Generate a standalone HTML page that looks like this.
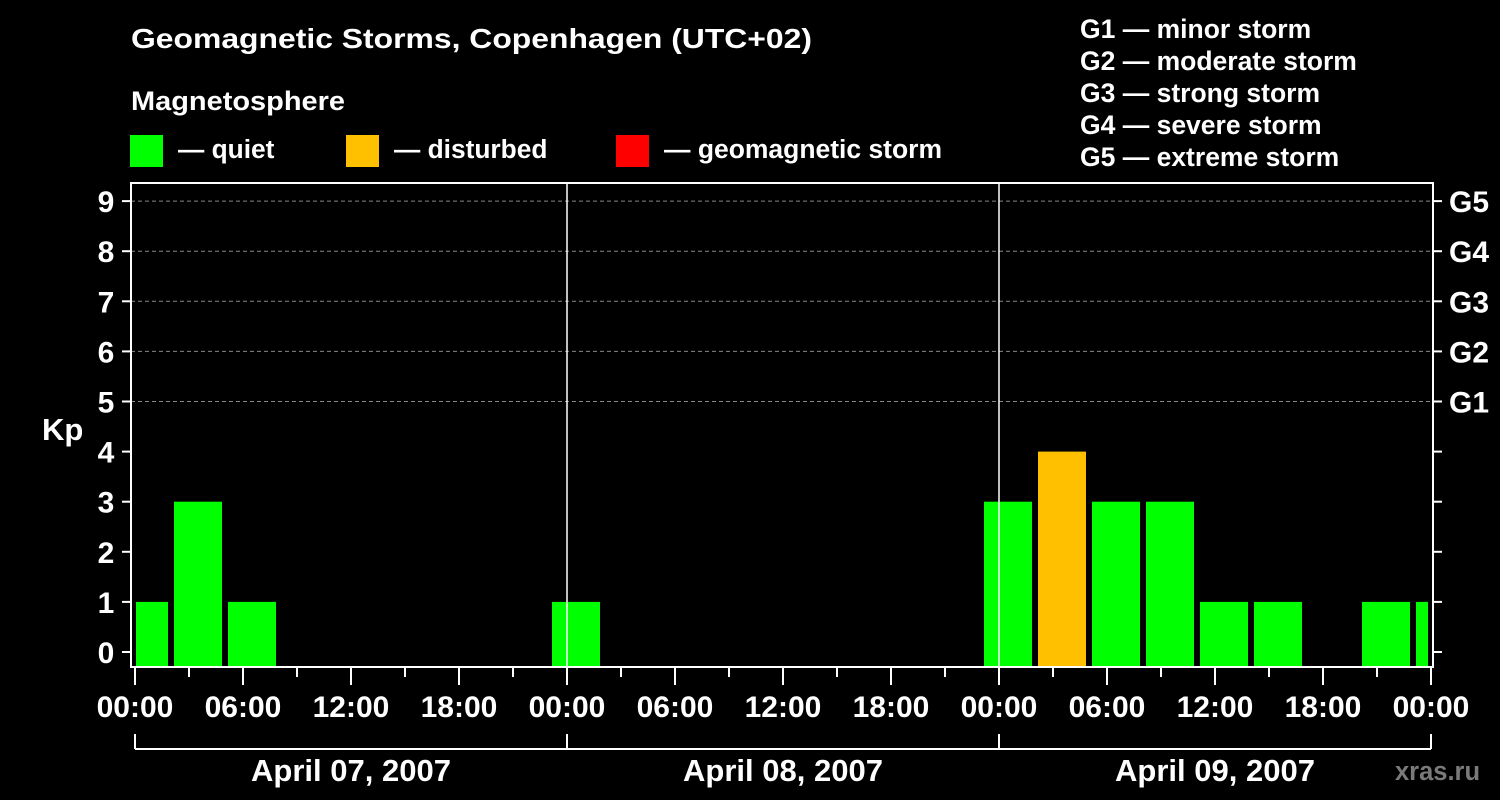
<!DOCTYPE html>
<html><head><meta charset="utf-8"><style>
html,body{margin:0;padding:0;background:#000;}
svg{display:block;}
text{font-family:"Liberation Sans",Arial,sans-serif;font-weight:bold;fill:#fff;}
</style></head><body>
<svg id="chart" width="1500" height="800" viewBox="0 0 1500 800" xmlns="http://www.w3.org/2000/svg">
<rect x="0" y="0" width="1500" height="800" fill="#000"/>
<text x="131" y="48" font-size="28" textLength="681" lengthAdjust="spacingAndGlyphs">Geomagnetic Storms, Copenhagen (UTC+02)</text>
<text x="131" y="110" font-size="27" textLength="214" lengthAdjust="spacingAndGlyphs">Magnetosphere</text>
<g><rect x="130" y="135" width="33" height="32" fill="#00ff00"/><text x="178" y="158" font-size="26.3">— quiet</text></g>
<g><rect x="346" y="135" width="33" height="32" fill="#ffc000"/><text x="394" y="158" font-size="26.3">— disturbed</text></g>
<g><rect x="616" y="135" width="33" height="32" fill="#ff0000"/><text x="664" y="158" font-size="26.3" textLength="278" lengthAdjust="spacingAndGlyphs">— geomagnetic storm</text></g>
<g font-size="26.5">
<text x="1080" y="38">G1 — minor storm</text>
<text x="1080" y="70">G2 — moderate storm</text>
<text x="1080" y="102">G3 — strong storm</text>
<text x="1080" y="134">G4 — severe storm</text>
<text x="1080" y="166">G5 — extreme storm</text>
</g>
<text x="42" y="440" font-size="31">Kp</text>
<text x="1395" y="780" font-size="25.5" style="fill:#7a7a7a">xras.ru</text>
<g id="plot"></g>
</svg>
<script>
const startTimes=[-1,2,5,23,47,50,53,56,59,62,68,71];
const kpValues=[1,3,1,1,3,4,3,3,1,1,1,1];
const yTicks=[0,1,2,3,4,5,6,7,8,9];
const gLabels=["G1","G2","G3","G4","G5"];
const gLevels=[5,6,7,8,9];
const hourLabels=["00:00","06:00","12:00","18:00"];
const dayLabels=["April 07, 2007","April 08, 2007","April 09, 2007"];

const NS="http://www.w3.org/2000/svg";
const plot=document.getElementById('plot');
const L=131,R=1433,T=183,B=667,X0=135,PXH=18;
const xs=h=>X0+h*PXH;
const ys=v=>652-v*50.1;
function mk(tag,attrs,parent){const e=document.createElementNS(NS,tag);for(const k in attrs)e.setAttribute(k,attrs[k]);(parent||plot).appendChild(e);return e;}
function color(v){return v>=5?"#ff0000":(v>=4?"#ffc000":"#00ff00");}

gLevels.forEach((v,i)=>{
 const g=mk('line',{x1:L,x2:R,y1:ys(v),y2:ys(v),stroke:"#888","stroke-dasharray":"4,3","stroke-width":1});
 
 
 const t=mk('text',{x:1449,y:ys(v)+11,"font-size":30});
 t.textContent=gLabels[i];
 
 
});
startTimes.forEach((h,i)=>{
 let x1=xs(h)+3,x2=x1+48;
 x1=Math.max(x1,136);x2=Math.min(x2,1428);
 const y=ys(kpValues[i]);
 const b=mk('rect',{x:x1,y:y,width:x2-x1,height:B-y,fill:color(kpValues[i])});
 
 
});
[1,2].forEach(d=>{
 const l=mk('line',{x1:xs(24*d),x2:xs(24*d),y1:T,y2:B,stroke:"#fff","stroke-width":1.5});
 
 
});
const fr=mk('rect',{x:L,y:T,width:R-L,height:B-T,fill:"none",stroke:"#fff","stroke-width":2});


yTicks.forEach(v=>{
 mk('line',{x1:122,x2:L,y1:ys(v),y2:ys(v),stroke:"#fff","stroke-width":2});
 mk('line',{x1:R,x2:1442,y1:ys(v),y2:ys(v),stroke:"#fff","stroke-width":2});
 const t=mk('text',{x:106,y:ys(v)+11,"font-size":30,"text-anchor":"middle"});
 t.textContent=v;
 
 
});
for(let h=0;h<=72;h+=3){
 const major=h%6===0;
 mk('line',{x1:xs(h),x2:xs(h),y1:B,y2:B+(major?18:10),stroke:"#fff","stroke-width":2});
 if(major){
  const t=mk('text',{x:xs(h),y:717,"font-size":30,"text-anchor":"middle"});
  t.textContent=hourLabels[(h/6)%4];
  
  
 }
}
dayLabels.forEach((d,i)=>{
 const a=xs(24*i),b=xs(24*(i+1));
 mk('line',{x1:a,x2:b,y1:749,y2:749,stroke:"#fff","stroke-width":2});
 mk('line',{x1:a,x2:a,y1:734,y2:749,stroke:"#fff","stroke-width":2});
 if(i===dayLabels.length-1)mk('line',{x1:b,x2:b,y1:734,y2:749,stroke:"#fff","stroke-width":2});
 const t=mk('text',{x:(a+b)/2,y:781,"font-size":31,"text-anchor":"middle"});
 t.textContent=d;
 
 
});
</script>
</body></html>
